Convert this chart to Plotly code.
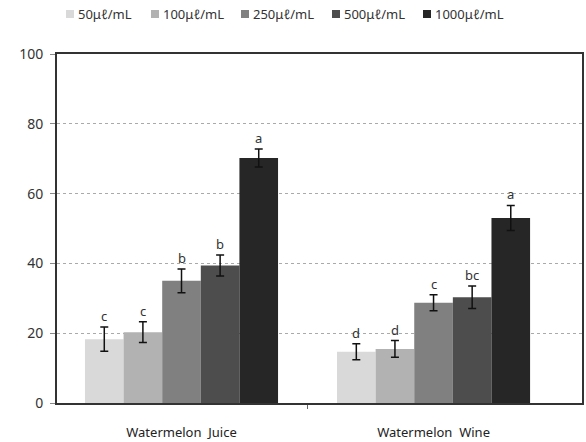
import plotly.graph_objects as go

# Samples and treatment concentrations
categories = ["Watermelon  Juice", "Watermelon  Wine"]
doses = ["50μℓ/mL", "100μℓ/mL", "250μℓ/mL", "500μℓ/mL", "1000μℓ/mL"]

# Mean values per dose (rows) for each sample (columns)
values = [
    [18.3, 14.7],
    [20.3, 15.5],
    [35.0, 28.7],
    [39.4, 30.3],
    [70.2, 53.0],
]
# Standard deviations
errors = [
    [3.5, 2.3],
    [3.0, 2.4],
    [3.4, 2.3],
    [3.0, 3.2],
    [2.6, 3.6],
]
# Significance letters
letters = [
    ["c", "d"],
    ["c", "d"],
    ["b", "c"],
    ["b", "bc"],
    ["a", "a"],
]

colors = ["#d9d9d9", "#b2b2b2", "#808080", "#4d4d4d", "#262626"]
FONT = "Noto Sans"

W, H = 586, 442
ML, MR, MT, MB = 57, 4, 54, 39
plot_w = W - ML - MR
plot_h = H - MT - MB

group_width = 0.766
bar_w = group_width / len(doses)
cat_pos = list(range(len(categories)))

fig = go.Figure()
for i, dose in enumerate(doses):
    xs = [c + (i - (len(doses) - 1) / 2) * bar_w for c in cat_pos]
    fig.add_trace(go.Bar(
        x=xs, y=values[i], width=bar_w, name=dose, showlegend=False,
        marker=dict(color=colors[i], line=dict(width=0)),
        error_y=dict(type="data", array=errors[i], color="#111111",
                     thickness=1.5, width=4),
    ))
    for x, v, e, t in zip(xs, values[i], errors[i], letters[i]):
        fig.add_annotation(x=x, y=v + e, text=t, showarrow=False,
                           yanchor="bottom", yshift=0,
                           font=dict(size=13, color="#333333", family=FONT))

# Key row above the plot: a small square and a label for each dose
key_x = [66, 151, 241, 332, 423]
key_y = 14
for i, dose in enumerate(doses):
    x0 = (key_x[i] - ML) / plot_w
    x1 = (key_x[i] + 8 - ML) / plot_w
    y0 = (H - MB - (key_y + 4)) / plot_h
    y1 = (H - MB - (key_y - 4)) / plot_h
    fig.add_shape(type="rect", xref="paper", yref="paper",
                  x0=x0, x1=x1, y0=y0, y1=y1,
                  fillcolor=colors[i], line=dict(width=0))
    fig.add_annotation(xref="paper", yref="paper",
                       x=(key_x[i] + 10 - ML) / plot_w,
                       y=(H - MB - key_y) / plot_h,
                       text=dose, showarrow=False,
                       xanchor="left", yanchor="middle",
                       font=dict(size=13, color="#333333", family=FONT))

fig.update_layout(
    width=W, height=H,
    margin=dict(l=ML, r=MR, t=MT, b=MB),
    paper_bgcolor="white", plot_bgcolor="white",
    barmode="overlay",
    showlegend=False,
    font=dict(family=FONT, color="#333333"),
)

fig.update_xaxes(
    range=[-0.494, 1.589], automargin=False,
    tickvals=cat_pos, ticktext=categories, ticks="",
    ticklabelstandoff=16,
    tickfont=dict(size=13, color="#222222"),
    showgrid=False, zeroline=False,
    showline=True, linecolor="#333333", linewidth=2, mirror=True,
    minor=dict(tickvals=[0.5], ticks="outside", ticklen=4,
               tickcolor="#666666"),
)
fig.update_yaxes(
    range=[0, 100], dtick=20, automargin=False,
    ticks="outside", ticklen=5, tickcolor="#888888",
    ticklabelstandoff=4,
    tickfont=dict(size=14, color="#333333"),
    showgrid=True, gridcolor="#aaaaaa", griddash="dot", gridwidth=1,
    zeroline=False,
    showline=True, linecolor="#333333", linewidth=2, mirror=True,
)

fig.write_html("out.html")
